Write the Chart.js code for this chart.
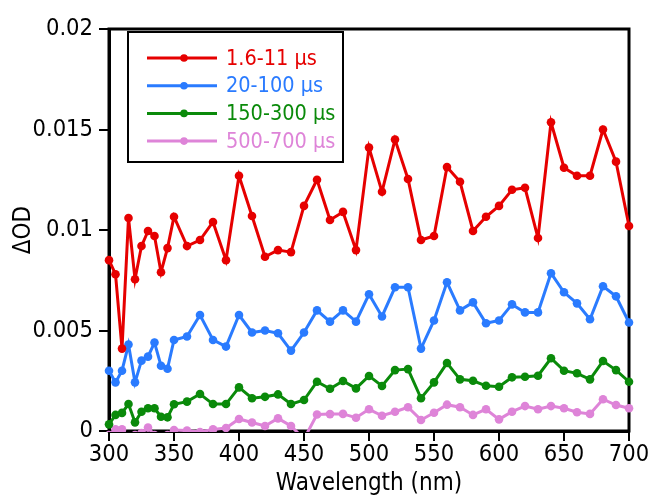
<!DOCTYPE html>
<html>
<head>
<meta charset="utf-8">
<script src="https://cdn.jsdelivr.net/npm/chart.js@4.4.1/dist/chart.umd.min.js"></script>
<style>
  html, body { margin: 0; padding: 0; background: #fff; }
  #wrap { width: 651px; height: 499px; }
</style>
</head>
<body>
<div id="wrap"><canvas id="odChart" width="651" height="499"></canvas></div>
<script>
        // wavelength grid (nm): 5 nm steps up to 350, then 10 nm steps
        const wavelengths = [300, 305, 310, 315, 320, 325, 330, 335, 340, 345, 350,
            360, 370, 380, 390, 400, 410, 420, 430, 440, 450, 460, 470, 480, 490, 500,
            510, 520, 530, 540, 550, 560, 570, 580, 590, 600, 610, 620, 630, 640, 650,
            660, 670, 680, 690, 700];

        const seriesLabels = ['1.6-11 µs', '20-100 µs', '150-300 µs', '500-700 µs'];
        const seriesColors = ['#e60000', '#2a7bff', '#0a8a0a', '#de84d8'];

        const od_1_11 = [0.0085, 0.0078, 0.0041, 0.0106, 0.00755, 0.0092, 0.00995, 0.0097, 0.0079, 0.0091, 0.01066,
            0.0092, 0.0095, 0.0104, 0.0085, 0.0127, 0.0107, 0.00867, 0.0090, 0.0089, 0.0112, 0.0125, 0.0105, 0.0109, 0.0090, 0.0141,
            0.0119, 0.0145, 0.01254, 0.0095, 0.0097, 0.01313, 0.0124, 0.00995, 0.01066, 0.0112, 0.0120, 0.0121, 0.0096, 0.01536, 0.0131,
            0.0127, 0.0127, 0.0150, 0.0134, 0.0102];

        const od_20_100 = [0.0030, 0.00242, 0.0030, 0.0043, 0.00242, 0.0035, 0.0037, 0.0044, 0.00325, 0.0031, 0.00453,
            0.0047, 0.00577, 0.00453, 0.0042, 0.00577, 0.0049, 0.0050, 0.00486, 0.0040, 0.0049, 0.0060, 0.00544, 0.0060, 0.00544, 0.0068,
            0.0057, 0.00715, 0.00715, 0.0041, 0.0055, 0.0074, 0.0060, 0.0064, 0.00536, 0.0055, 0.0063, 0.0059, 0.0059, 0.00785, 0.0069,
            0.00635, 0.00556, 0.0072, 0.0067, 0.0054];

        const od_150_300 = [0.00033, 0.0008, 0.0009, 0.00134, 0.00043, 0.00096, 0.00113, 0.00113, 0.00071, 0.00068, 0.00133,
            0.00146, 0.00184, 0.00134, 0.00134, 0.00217, 0.00163, 0.0017, 0.00182, 0.00134, 0.00154, 0.00245, 0.0021, 0.00249, 0.00212, 0.00274,
            0.00224, 0.00303, 0.00308, 0.00163, 0.00242, 0.00338, 0.00257, 0.0025, 0.00225, 0.0022, 0.00267, 0.0027, 0.00275, 0.00362, 0.0030,
            0.00287, 0.00257, 0.00348, 0.00303, 0.00245];

        const od_500_700 = [-0.0002, 0.00008, 0.00008, -0.0003, -0.0002, -0.0001, 0.00017, -0.0002, -0.0003, -0.0002, 0.00005,
            0.00002, -0.00005, 0.00008, 0.00015, 0.0006, 0.00042, 0.00025, 0.00063, 0.00025, -0.0004, 0.00082, 0.00084, 0.00085, 0.00066, 0.00108,
            0.00076, 0.00096, 0.00118, 0.00055, 0.00091, 0.00131, 0.00118, 0.0008, 0.00108, 0.00058, 0.00096, 0.00124, 0.00108, 0.00124, 0.00113,
            0.00093, 0.00085, 0.00158, 0.00129, 0.00113];

        const xTicks = [300, 350, 400, 450, 500, 550, 600, 650, 700];
        const yTicks = [0, 0.005, 0.01, 0.015, 0.02];

        const FONT = "'DejaVu Sans Condensed', 'DejaVu Sans', sans-serif";

        function toPoints(values) {
            return wavelengths.map((w, i) => ({ x: w, y: values[i] }));
        }

        const allSeries = [od_1_11, od_20_100, od_150_300, od_500_700];

        // frame around the plot area (top/right edges have no ticks)
        const framePlugin = {
            id: 'frame',
            beforeDatasetsDraw(chart) {
                const a = chart.chartArea;
                const ctx = chart.ctx;
                ctx.save();
                ctx.strokeStyle = '#000';
                ctx.lineWidth = 3;
                ctx.strokeRect(a.left, a.top, a.right - a.left, a.bottom - a.top);
                ctx.restore();
            }
        };

        // boxed legend in the upper left corner of the plot
        const boxLegend = {
            id: 'boxLegend',
            afterDraw(chart) {
                const a = chart.chartArea;
                const ctx = chart.ctx;
                const bx = a.left + 19, by = a.top + 3, bw = 215, bh = 130;
                ctx.save();
                ctx.fillStyle = '#fff';
                ctx.fillRect(bx, by, bw, bh);
                ctx.strokeStyle = '#000';
                ctx.lineWidth = 2;
                ctx.strokeRect(bx, by, bw, bh);
                ctx.font = '21.5px ' + FONT;
                ctx.textBaseline = 'middle';
                chart.data.datasets.forEach((ds, i) => {
                    const y = by + 26 + i * 27.7;
                    ctx.strokeStyle = ds.borderColor;
                    ctx.lineWidth = 3;
                    ctx.beginPath();
                    ctx.moveTo(bx + 19, y);
                    ctx.lineTo(bx + 89, y);
                    ctx.stroke();
                    ctx.fillStyle = ds.borderColor;
                    ctx.beginPath();
                    ctx.arc(bx + 56, y, 3.8, 0, Math.PI * 2);
                    ctx.fill();
                    ctx.fillText(ds.label, bx + 98, y + 1);
                });
                ctx.restore();
            }
        };

        const odCtx = document.getElementById('odChart').getContext('2d');
        new Chart(odCtx, {
            type: 'line',
            data: {
                datasets: allSeries.map((vals, i) => ({
                    label: seriesLabels[i],
                    data: toPoints(vals),
                    borderColor: seriesColors[i],
                    backgroundColor: seriesColors[i],
                    pointBackgroundColor: seriesColors[i],
                    pointBorderWidth: 0,
                    pointRadius: 4.3,
                    borderWidth: 3,
                    tension: 0,
                    clip: { left: 6, top: 6, right: 6, bottom: 1 }
                }))
            },
            options: {
                responsive: false,
                animation: false,
                events: [],
                layout: { padding: { left: 0, top: 29, right: 22, bottom: 0 } },
                plugins: {
                    legend: { display: false },
                    tooltip: { enabled: false }
                },
                scales: {
                    x: {
                        type: 'linear',
                        min: 300,
                        max: 700,
                        afterBuildTicks(scale) {
                            scale.ticks = xTicks.map(v => ({ value: v }));
                        },
                        afterFit(scale) { scale.height = 68; },
                        grid: { drawOnChartArea: false, drawTicks: true, tickLength: 10, color: '#000', lineWidth: 2 },
                        border: { display: true, width: 3, color: '#000' },
                        ticks: {
                            color: '#000',
                            padding: 0,
                            maxRotation: 0,
                            font: { family: FONT, size: 23.5 }
                        },
                        title: {
                            display: true,
                            text: 'Wavelength (nm)',
                            color: '#000',
                            padding: { top: 0, bottom: 1 },
                            font: { family: FONT, size: 24 }
                        }
                    },
                    y: {
                        min: 0,
                        max: 0.02,
                        afterBuildTicks(scale) {
                            scale.ticks = yTicks.map(v => ({ value: v }));
                        },
                        afterFit(scale) { scale.width = 109; },
                        grid: { drawOnChartArea: false, drawTicks: true, tickLength: 10, color: '#000', lineWidth: 2 },
                        border: { display: true, width: 3, color: '#000' },
                        ticks: {
                            color: '#000',
                            padding: 6,
                            font: { family: FONT, size: 23.5 },
                            callback: v => String(Number(v.toFixed(3)))
                        },
                        title: {
                            display: true,
                            text: 'ΔOD',
                            color: '#000',
                            padding: { top: 9, bottom: 0 },
                            font: { family: FONT, size: 24 }
                        }
                    }
                }
            },
            plugins: [framePlugin, boxLegend]
        });
</script>
</body>
</html>
